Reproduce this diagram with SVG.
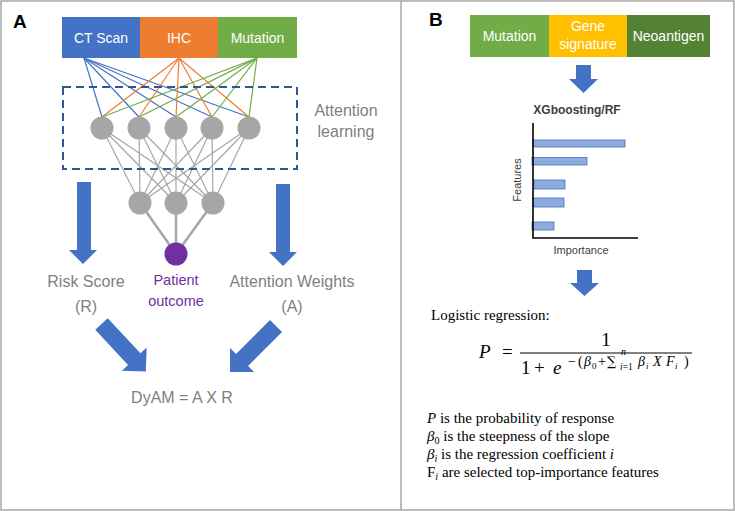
<svg xmlns="http://www.w3.org/2000/svg" width="735" height="511" viewBox="0 0 735 511">
<defs>
<style>
.frame{fill:none;stroke:#A6A6A6;stroke-width:1.5}
.lbl{font-family:"Liberation Sans",Arial,sans-serif}
.box-t{font-family:"Liberation Sans",Arial,sans-serif;font-size:14px;fill:#fff;text-anchor:middle}
.gray{fill:#7F7F7F;font-size:16px;text-anchor:middle}
.node{fill:#A6A6A6}
.cb{stroke:#4472C4;stroke-width:1.2}
.co{stroke:#ED7D31;stroke-width:1.2}
.cg{stroke:#70AD47;stroke-width:1.2}
.cn{stroke:#A6A6A6;stroke-width:1.2}
.ct{stroke:#A6A6A6;stroke-width:2.5}
.arr{fill:#4472C4}
.bar{fill:#8FAADC;stroke:#4472C4;stroke-width:0.8}
.ser{font-family:"Liberation Serif","Times New Roman",serif;fill:#000}
.math{font-family:"Liberation Serif","DejaVu Serif",serif;fill:#000}
</style>
<path id="blk" d="M0,-8.5 L48,-8.5 L48,-17 L65,0 L48,17 L48,8.5 L0,8.5 Z"/>
</defs>
<rect x="0" y="0" width="735" height="511" fill="#fff"/>
<rect class="frame" x="1" y="1" width="733" height="509"/>
<line class="frame" x1="401" y1="1" x2="401" y2="510"/>

<!-- Panel A -->
<text class="lbl" x="13" y="28" font-size="19" font-weight="bold" fill="#000">A</text>
<g id="ct-scan"><rect x="62" y="17" width="78" height="41" fill="#4472C4"/><text class="box-t" x="101" y="43">CT Scan</text></g>
<g id="ihc"><rect x="140" y="17" width="78" height="41" fill="#ED7D31"/><text class="box-t" x="179" y="43">IHC</text></g>
<g id="mutation-a"><rect x="218" y="17" width="79" height="41" fill="#70AD47"/><text class="box-t" x="257.5" y="43">Mutation</text></g>

<g id="connectors">
<g class="cb">
<line x1="84" y1="58" x2="102" y2="117"/><line x1="84" y1="58" x2="139" y2="117"/><line x1="84" y1="58" x2="176" y2="117"/><line x1="84" y1="58" x2="212" y2="117"/><line x1="84" y1="58" x2="249" y2="117"/>
</g>
<g class="co">
<line x1="179" y1="58" x2="102" y2="117"/><line x1="179" y1="58" x2="139" y2="117"/><line x1="179" y1="58" x2="176" y2="117"/><line x1="179" y1="58" x2="212" y2="117"/><line x1="179" y1="58" x2="249" y2="117"/>
</g>
<g class="cg">
<line x1="257" y1="58" x2="102" y2="117"/><line x1="257" y1="58" x2="139" y2="117"/><line x1="257" y1="58" x2="176" y2="117"/><line x1="257" y1="58" x2="212" y2="117"/><line x1="257" y1="58" x2="249" y2="117"/>
</g>
<g class="cn">
<line x1="102" y1="128" x2="140" y2="203"/><line x1="102" y1="128" x2="176" y2="203"/><line x1="102" y1="128" x2="213" y2="203"/>
<line x1="139" y1="128" x2="140" y2="203"/><line x1="139" y1="128" x2="176" y2="203"/><line x1="139" y1="128" x2="213" y2="203"/>
<line x1="176" y1="128" x2="140" y2="203"/><line x1="176" y1="128" x2="176" y2="203"/><line x1="176" y1="128" x2="213" y2="203"/>
<line x1="212" y1="128" x2="140" y2="203"/><line x1="212" y1="128" x2="176" y2="203"/><line x1="212" y1="128" x2="213" y2="203"/>
<line x1="249" y1="128" x2="140" y2="203"/><line x1="249" y1="128" x2="176" y2="203"/><line x1="249" y1="128" x2="213" y2="203"/>
</g>
<g class="ct">
<line x1="140" y1="203" x2="176" y2="254"/><line x1="176" y1="203" x2="176" y2="254"/><line x1="213" y1="203" x2="176" y2="254"/>
</g>
</g>

<g id="attention-box"><rect x="63" y="87" width="234" height="82" fill="none" stroke="#2F5597" stroke-width="2" stroke-dasharray="8,5"/></g>
<g id="layer1">
<circle class="node" cx="102" cy="128" r="11.5"/><circle class="node" cx="139" cy="128" r="11.5"/><circle class="node" cx="176" cy="128" r="11.5"/><circle class="node" cx="212" cy="128" r="11.5"/><circle class="node" cx="249" cy="128" r="11.5"/>
</g>
<g id="layer2">
<circle class="node" cx="140" cy="203" r="11.5"/><circle class="node" cx="176" cy="203" r="11.5"/><circle class="node" cx="213" cy="203" r="11.5"/>
</g>
<g id="patient-outcome">
<circle cx="176" cy="254" r="11.5" fill="#7030A0"/>
<text class="lbl" x="176" y="285" font-size="14.5" fill="#7030A0" text-anchor="middle">Patient</text>
<text class="lbl" x="176" y="306" font-size="14.5" fill="#7030A0" text-anchor="middle">outcome</text>
</g>
<g id="attention-learning"><text class="lbl gray" x="346" y="116">Attention</text><text class="lbl gray" x="346" y="137">learning</text></g>

<g id="arrows-a">
<path class="arr" d="M77,182 L91,182 L91,250 L97,250 L83,264 L69,250 L77,250 Z"/>
<path class="arr" d="M276,184 L290,184 L290,252 L297,252 L283,266 L269,252 L276,252 Z"/>
<use href="#blk" class="arr" transform="translate(101.5,324) rotate(47)"/>
<use href="#blk" class="arr" transform="translate(276,326) rotate(135)"/>
</g>
<g id="risk-score"><text class="lbl gray" x="86" y="287">Risk Score</text><text class="lbl gray" x="86" y="312">(R)</text></g>
<g id="attention-weights"><text class="lbl gray" x="292" y="287">Attention Weights</text><text class="lbl gray" x="292" y="312">(A)</text></g>
<g id="dyam"><text class="lbl gray" x="182" y="403" font-size="17">DyAM = A X R</text></g>

<!-- Panel B -->
<text class="lbl" x="429" y="26" font-size="19" font-weight="bold" fill="#000">B</text>
<g id="mutation-b"><rect x="470" y="15" width="79" height="42" fill="#70AD47"/><text class="box-t" x="509.5" y="41">Mutation</text></g>
<g id="gene-signature"><rect x="549" y="15" width="78" height="42" fill="#FFC000"/><text class="box-t" x="588" y="31">Gene</text><text class="box-t" x="588" y="49">signature</text></g>
<g id="neoantigen"><rect x="627" y="15" width="83" height="42" fill="#548235"/><text class="box-t" x="668.5" y="41">Neoantigen</text></g>

<g id="arrows-b">
<path class="arr" d="M576,65 L591,65 L591,79 L598,79 L583.5,93 L569,79 L576,79 Z"/>
<path class="arr" d="M577,270 L592,270 L592,283 L599,283 L584.5,296 L570,283 L577,283 Z"/>
</g>

<g id="chart">
<text class="lbl" x="577" y="114" font-size="12" font-weight="bold" fill="#404040" text-anchor="middle">XGboosting/RF</text>
<rect class="bar" x="533" y="140" width="92" height="7"/>
<rect class="bar" x="532" y="157.5" width="55" height="7.5"/>
<rect class="bar" x="534" y="180" width="31" height="9"/>
<rect class="bar" x="533" y="198" width="31" height="9"/>
<rect class="bar" x="532" y="222" width="22" height="8"/>
<path d="M533,123 L533,238 L638,238" fill="none" stroke="#000" stroke-width="1.6"/>
<text class="lbl" transform="translate(521,180) rotate(-90)" font-size="11" fill="#404040" text-anchor="middle">Features</text>
<text class="lbl" x="581" y="254" font-size="11" fill="#404040" text-anchor="middle">Importance</text>
</g>

<g id="logistic">
<text class="ser" x="431" y="320" font-size="15">Logistic regression:</text>
<text class="math" x="479" y="358" font-size="19" font-style="italic">P</text>
<text class="math" x="502" y="358" font-size="19">=</text>
<text class="math" x="606" y="346" font-size="19" text-anchor="middle">1</text>
<line x1="520" y1="353" x2="692" y2="353" stroke="#000" stroke-width="1"/>
<text class="math" y="374" font-size="19"><tspan x="521">1</tspan><tspan x="534">+</tspan><tspan x="553" font-style="italic">e</tspan></text>
<text class="math" y="366" font-size="14"><tspan x="568">−</tspan><tspan x="578">(</tspan><tspan x="584" font-style="italic">β</tspan><tspan x="592" y="369" font-size="9">0</tspan><tspan x="598" y="366">+</tspan><tspan x="607" font-family="DejaVu Serif" font-size="13">∑</tspan><tspan x="638" font-style="italic">β</tspan><tspan x="646" y="369" font-size="9" font-style="italic">i</tspan><tspan x="653" y="366" font-style="italic">X</tspan><tspan x="666" font-style="italic">F</tspan><tspan x="675" y="369" font-size="9" font-style="italic">i</tspan><tspan x="684" y="366">)</tspan></text>
<text class="math" x="621" y="355" font-size="10" font-style="italic">n</text>
<text class="math" x="620" y="370" font-size="9.5"><tspan font-style="italic">i</tspan>=1</text>
</g>

<g id="definitions">
<text class="ser" x="427" y="423" font-size="15"><tspan font-style="italic">P</tspan> is the probability of response</text>
<text class="ser" x="427" y="441" font-size="15"><tspan font-style="italic">β</tspan><tspan font-size="10" dy="3">0</tspan><tspan dy="-3"> is the steepness of the slope</tspan></text>
<text class="ser" x="427" y="459" font-size="15"><tspan font-style="italic">β</tspan><tspan font-size="10" dy="3" font-style="italic">i</tspan><tspan dy="-3"> is the regression coefficient </tspan><tspan font-style="italic">i</tspan></text>
<text class="ser" x="427" y="477" font-size="15">F<tspan font-size="10" dy="3" font-style="italic">i</tspan><tspan dy="-3"> are selected top-importance features</tspan></text>
</g>
</svg>
